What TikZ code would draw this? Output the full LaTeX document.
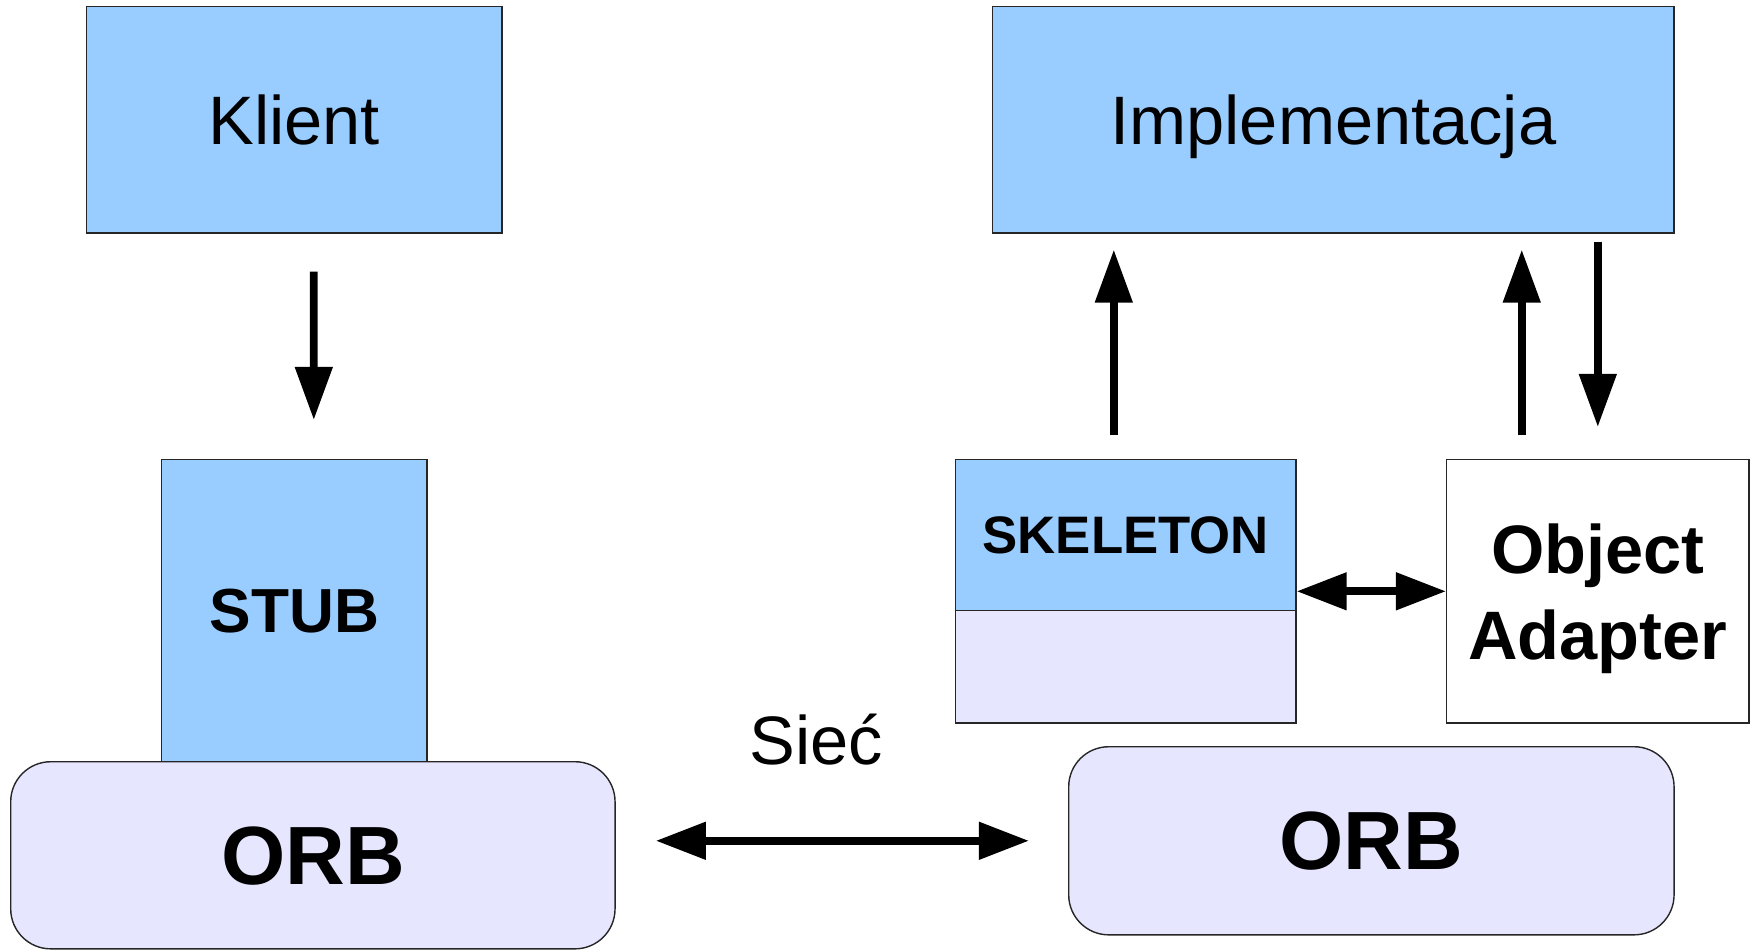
\documentclass[tikz,border=0pt]{standalone}
\usepackage{fontspec}
\setmainfont{Liberation Sans}
\usetikzlibrary{arrows.meta}
\definecolor{boxblue}{HTML}{99CCFF}
\definecolor{orblav}{HTML}{E6E6FF}

\begin{document}
\begin{tikzpicture}[x=0.01cm, y=-0.01cm,
    box/.style={draw=black!85, line width=0.4pt, anchor=north west, inner sep=0pt, align=center, text depth=0pt},
    plain/.style={font=\fontsize{19.5}{23.9}\selectfont},
    heavy/.style={font=\fontsize{#1}{24.5}\selectfont\bfseries},
    arr/.style={line width=2.2pt, -{Triangle[length=0.53cm, width=0.36cm]}},
    dblarr/.style={line width=2.2pt, {Triangle[length=#1, width=0.36cm]}-{Triangle[length=#1, width=0.36cm]}}]
    \useasboundingbox (0,0) rectangle (1758,950);

    % Client side
    \node[box, fill=boxblue, plain, minimum width=4.15cm, minimum height=2.26cm] (klient) at (86,6) {Klient};
    \node[box, fill=boxblue, heavy=17.7, minimum width=2.65cm, minimum height=3.02cm] (stub) at (161,459) {STUB};
    \node[box, fill=orblav, heavy=23.5, rounded corners=0.4cm, minimum width=6.04cm, minimum height=1.87cm] (orbL) at (10,761) {ORB};

    % Server side
    \node[box, fill=boxblue, plain, minimum width=6.81cm, minimum height=2.26cm] (impl) at (992,6) {Implementacja};
    \node[box, fill=boxblue, heavy=15, minimum width=3.4cm, minimum height=1.51cm] (skel) at (955,459) {SKELETON};
    \node[box, fill=orblav, minimum width=3.4cm, minimum height=1.12cm] (skelLow) at (955,610) {};
    \node[box, fill=white, heavy=19.5, minimum width=3.02cm, minimum height=2.63cm] (oa) at (1446,459) {Object\\Adapter};
    \node[box, fill=orblav, heavy=23.5, rounded corners=0.4cm, minimum width=6.05cm, minimum height=1.88cm] (orbR) at (1068,746) {ORB};

    % Network
    \node[plain] (siec) at (816,740) {Sieć};
    \draw[dblarr=0.5cm, shorten <=0.4cm, shorten >=0.39cm] (orbL.east |- orbR.west) -- (orbR.west);

    % Calls
    \draw[arr, shorten <=0.38cm, shorten >=0.39cm] ([xshift=0.195cm]klient.south) -- ([xshift=0.195cm]stub.north);
    \draw[arr, shorten <=0.24cm, shorten >=0.16cm] ([xshift=-0.12cm]skel.north) -- ([xshift=-0.12cm]skel.north |- impl.south);
    \draw[arr, shorten <=0.24cm, shorten >=0.16cm] ([xshift=-0.76cm]oa.north) -- ([xshift=-0.76cm]oa.north |- impl.south);
    \draw[arr, shorten <=0.08cm, shorten >=0.32cm] (oa.north |- impl.south) -- (oa.north);
    \draw[dblarr=0.5cm] (skel.east |- oa.west) -- (oa.west);
\end{tikzpicture}
\end{document}
